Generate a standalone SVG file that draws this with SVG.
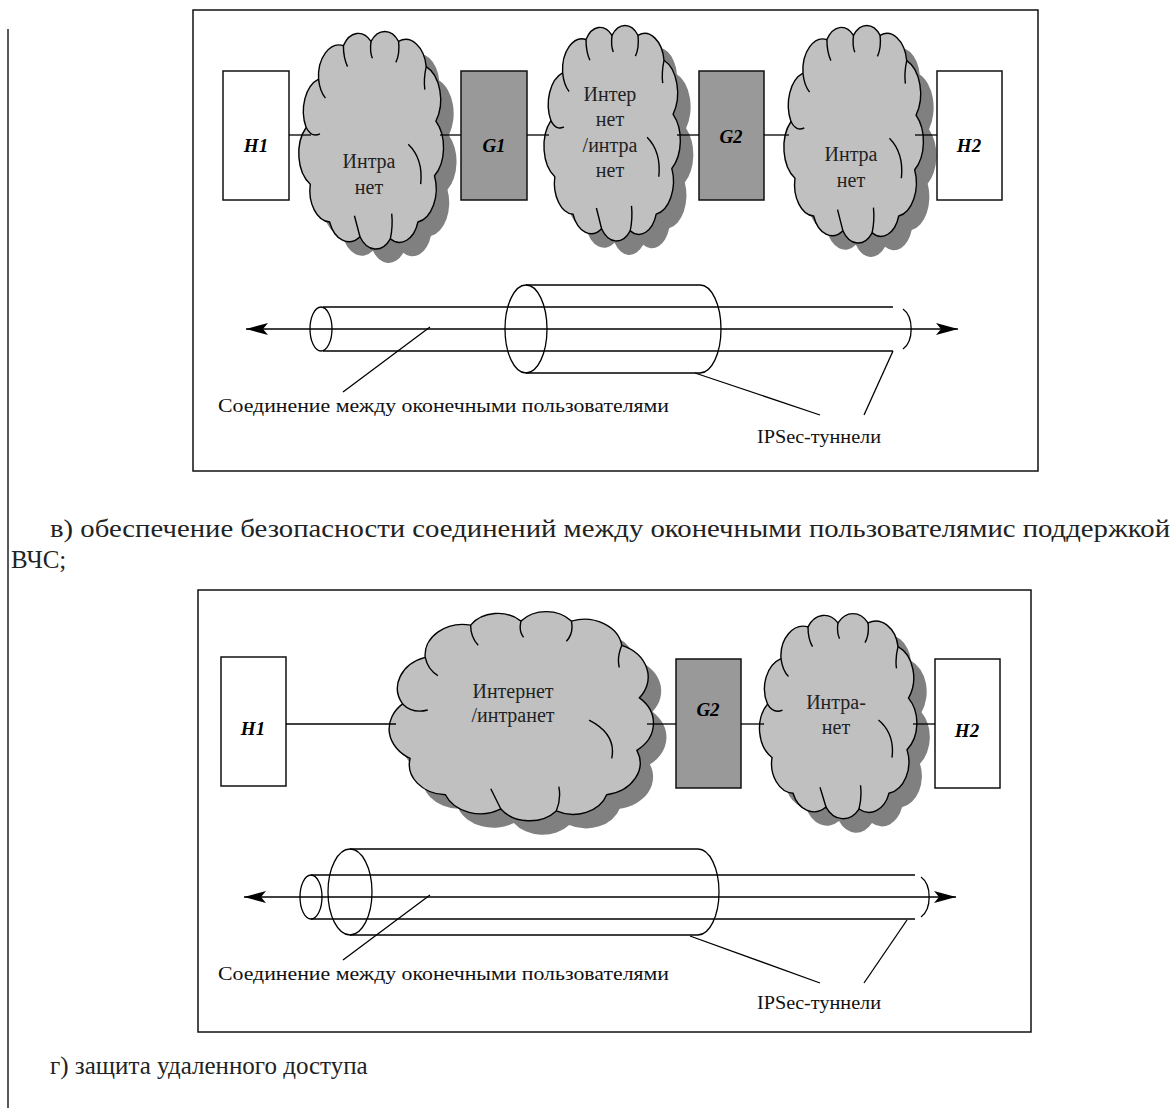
<svg xmlns="http://www.w3.org/2000/svg" xmlns:xlink="http://www.w3.org/1999/xlink" width="1175" height="1108" viewBox="0 0 1175 1108">
<style>
.frame{fill:none;stroke:#111;stroke-width:1.5}
.host{fill:#fff;stroke:#111;stroke-width:1.5}
.gw{fill:#999;stroke:#111;stroke-width:1.5}
.cloud{fill:#c0c0c0;stroke:#000;stroke-width:1.4}
.shadow{fill:#808080;stroke:none}
.inner{fill:none;stroke:#000;stroke-width:1.4}
#cloudOutline,#cloudIn{vector-effect:non-scaling-stroke}
.lbl{font-family:"Liberation Serif",serif;font-size:20px;fill:#222;text-anchor:middle}
.nm{font-family:"Liberation Serif",serif;font-size:19px;font-weight:bold;font-style:italic;fill:#000;text-anchor:middle}
.ln{stroke:#000;stroke-width:1.3;fill:none}
.tube{stroke:#000;stroke-width:1.3;fill:none}
.arrow{stroke:#000;stroke-width:1.6;fill:none;marker-start:url(#ah);marker-end:url(#ah)}
.note{font-family:"Liberation Serif",serif;font-size:19px;fill:#111}
.cap{font-family:"Liberation Serif",serif;font-size:25px;fill:#222}
</style>
<defs>
<path id="cloudOutline" d="M3,45 A16,16 0 0 1 12,22 A15,15 0 0 1 30,6 A13,13 0 0 1 50,4 A13,13 0 0 1 70,4 A15,15 0 0 1 90,16 A17,17 0 0 1 97,42 A17,17 0 0 1 96,68 A16,16 0 0 1 84,90 A14,14 0 0 1 64,98 A14,14 0 0 1 42,97 A15,15 0 0 1 20,90 A15,15 0 0 1 6,72 A17,17 0 0 1 3,45 Z"/>
<path id="cloudIn" d="M3,45 Q7,50 13,48 M12,22 Q13,28 17,31 M30,6 Q30,12 33,16 M50,4 Q49,9 51,12 M70,4 Q71,10 68,14 M90,16 Q88,22 89,27 M77,53 Q88,60 86,72 M42,97 Q40,92 38,87 M64,98 Q66,92 65,86"/>
<marker id="ah" markerUnits="userSpaceOnUse" markerWidth="22" markerHeight="12" refX="22" refY="6" orient="auto-start-reverse" viewBox="0 0 22 12">
<path d="M0,0 L22,6 L0,12 L5,6 Z" fill="#000"/>
</marker>
</defs>

<rect width="1175" height="1108" fill="#fff"/>
<line x1="8" y1="29" x2="8" y2="1108" stroke="#222" stroke-width="1.5"/>

<!-- Diagram 1 -->
<g id="frame1"><rect class="frame" x="193" y="10" width="845" height="461"/></g>

<g id="n1-H1"><rect class="host" x="223" y="71" width="66" height="129"/><text class="nm" x="256" y="152">H1</text></g>
<g id="n1-cloud1">
<use xlink:href="#cloudOutline" class="shadow" transform="translate(315,47) scale(1.38,2.10)"/>
<use xlink:href="#cloudOutline" class="cloud" transform="translate(302,33) scale(1.38,2.10)"/>
<use xlink:href="#cloudIn" class="inner" transform="translate(302,33) scale(1.38,2.10)"/>
<text class="lbl" x="369" y="168">Интра</text><text class="lbl" x="369" y="194">нет</text></g>
<g id="n1-G1"><rect class="gw" x="461" y="71" width="66" height="129"/><text class="nm" x="494" y="152">G1</text></g>
<g id="n1-cloud2">
<use xlink:href="#cloudOutline" class="shadow" transform="translate(560,41) scale(1.30,2.08)"/>
<use xlink:href="#cloudOutline" class="cloud" transform="translate(547,27) scale(1.30,2.08)"/>
<use xlink:href="#cloudIn" class="inner" transform="translate(547,27) scale(1.30,2.08)"/>
<text class="lbl" x="610" y="101">Интер</text><text class="lbl" x="610" y="126">нет</text><text class="lbl" x="610" y="152">/интра</text><text class="lbl" x="610" y="177">нет</text></g>
<g id="n1-G2"><rect class="gw" x="699" y="71" width="65" height="129"/><text class="nm" x="731" y="143">G2</text></g>
<g id="n1-cloud3">
<use xlink:href="#cloudOutline" class="shadow" transform="translate(800,41) scale(1.33,2.10)"/>
<use xlink:href="#cloudOutline" class="cloud" transform="translate(787,27) scale(1.33,2.10)"/>
<use xlink:href="#cloudIn" class="inner" transform="translate(787,27) scale(1.33,2.10)"/>
<text class="lbl" x="851" y="161">Интра</text><text class="lbl" x="851" y="187">нет</text></g>
<g id="n1-H2"><rect class="host" x="937" y="71" width="65" height="129"/><text class="nm" x="969" y="152">H2</text></g>

<g id="connectors1">
<line class="ln" x1="289" y1="135" x2="311" y2="135"/>
<line class="ln" x1="440" y1="135" x2="461" y2="135"/>
<line class="ln" x1="527" y1="135" x2="549" y2="135"/>
<line class="ln" x1="677" y1="135" x2="699" y2="135"/>
<line class="ln" x1="764" y1="135" x2="789" y2="135"/>
<line class="ln" x1="915" y1="135" x2="937" y2="135"/>
</g>

<g id="tunnel1">
<ellipse class="tube" cx="321" cy="329" rx="11" ry="22"/>
<line class="tube" x1="323" y1="307" x2="893" y2="307"/>
<line class="tube" x1="323" y1="351" x2="893" y2="351"/>
<path class="tube" d="M903,309 A14,22 0 0 1 903,349"/>
<ellipse class="tube" cx="526" cy="329" rx="21" ry="44"/>
<line class="tube" x1="526" y1="285" x2="700" y2="285"/>
<line class="tube" x1="526" y1="373" x2="700" y2="373"/>
<path class="tube" d="M700,285 A21,44 0 0 1 700,373"/>
<line class="arrow" x1="246" y1="329" x2="958" y2="329"/>
<line class="ln" x1="430" y1="327" x2="343" y2="392"/>
<line class="ln" x1="695" y1="373" x2="820" y2="415"/>
<line class="ln" x1="893" y1="351" x2="864" y2="415"/>
<text class="note" x="218" y="412" textLength="451" lengthAdjust="spacingAndGlyphs">Соединение между оконечными пользователями</text>
<text class="note" x="757" y="443" textLength="124" lengthAdjust="spacingAndGlyphs">IPSec-туннели</text>
</g>

<text class="cap" x="50" y="537" textLength="1120" lengthAdjust="spacingAndGlyphs">в) обеспечение безопасности соединений между оконечными пользователямис поддержкой</text>
<text class="cap" x="11" y="568">ВЧС;</text>

<!-- Diagram 2 -->
<g id="frame2"><rect class="frame" x="198" y="590" width="833" height="442"/></g>

<g id="n2-H1"><rect class="host" x="221" y="657" width="65" height="129"/><text class="nm" x="253" y="735">H1</text></g>
<g id="n2-cloud1">
<use xlink:href="#cloudOutline" class="shadow" transform="translate(408,627) scale(2.52,2.02)"/>
<use xlink:href="#cloudOutline" class="cloud" transform="translate(395,613) scale(2.52,2.02)"/>
<use xlink:href="#cloudIn" class="inner" transform="translate(395,613) scale(2.52,2.02)"/>
<text class="lbl" x="513" y="698">Интернет</text><text class="lbl" x="513" y="722">/интранет</text></g>
<g id="n2-G2"><rect class="gw" x="676" y="659" width="65" height="129"/><text class="nm" x="708" y="716">G2</text></g>
<g id="n2-cloud2">
<use xlink:href="#cloudOutline" class="shadow" transform="translate(776,629) scale(1.50,1.98)"/>
<use xlink:href="#cloudOutline" class="cloud" transform="translate(763,615) scale(1.50,1.98)"/>
<use xlink:href="#cloudIn" class="inner" transform="translate(763,615) scale(1.50,1.98)"/>
<text class="lbl" x="836" y="709">Интра-</text><text class="lbl" x="836" y="734">нет</text></g>
<g id="n2-H2"><rect class="host" x="935" y="659" width="65" height="129"/><text class="nm" x="967" y="737">H2</text></g>

<g id="connectors2">
<line class="ln" x1="286" y1="724" x2="396" y2="724"/>
<line class="ln" x1="647" y1="724" x2="676" y2="724"/>
<line class="ln" x1="741" y1="724" x2="764" y2="724"/>
<line class="ln" x1="913" y1="724" x2="935" y2="724"/>
</g>

<g id="tunnel2">
<ellipse class="tube" cx="311" cy="897" rx="11" ry="22"/>
<line class="tube" x1="311" y1="875" x2="915" y2="875"/>
<line class="tube" x1="311" y1="919" x2="915" y2="919"/>
<path class="tube" d="M921,877 A14,22 0 0 1 921,917"/>
<ellipse class="tube" cx="350" cy="892" rx="22" ry="43"/>
<line class="tube" x1="350" y1="849" x2="698" y2="849"/>
<line class="tube" x1="350" y1="935" x2="698" y2="935"/>
<path class="tube" d="M698,849 A21,43 0 0 1 698,935"/>
<line class="arrow" x1="244" y1="897" x2="956" y2="897"/>
<line class="ln" x1="430" y1="895" x2="343" y2="960"/>
<line class="ln" x1="690" y1="936" x2="820" y2="983"/>
<line class="ln" x1="907" y1="920" x2="864" y2="983"/>
<text class="note" x="218" y="980" textLength="451" lengthAdjust="spacingAndGlyphs">Соединение между оконечными пользователями</text>
<text class="note" x="757" y="1009" textLength="124" lengthAdjust="spacingAndGlyphs">IPSec-туннели</text>
</g>

<text class="cap" x="50" y="1074" font-size="21">г) защита удаленного доступа</text>
</svg>
